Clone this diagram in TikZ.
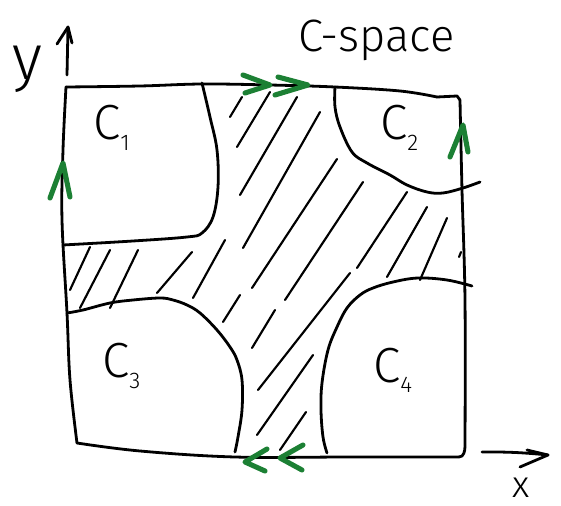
\documentclass[tikz,border=0pt]{standalone}
\usepackage{fontspec}
\setmainfont{Fira Sans Light}
\definecolor{marker}{RGB}{28,128,52}
\newcommand{\obst}[1]{C\raisebox{-8pt}{\fontsize{17}{17}\selectfont #1}}
\tikzset{
  ink/.style={draw=black, line width=2.1pt, line cap=round, line join=round},
  hatchline/.style={draw=black, line width=1.6pt, line cap=round},
  greenmark/.style={draw=marker, line width=3.8pt, line cap=round, line join=round},
  hand/.style={inner sep=0pt, text=black},
}
\begin{document}
\begin{tikzpicture}[x=0.75pt, y=-0.75pt]
\useasboundingbox (0,0) rectangle (561,506);

% outer square of the configuration space
\draw[ink] plot[smooth, tension=0.6] coordinates {(66,87) (140,86) (202,84) (270,85) (335,87) (400,91) (437,97)};
\draw[ink] (437,97) -- (457,96) -- (460,100);
\draw[ink] plot[smooth, tension=0.6] coordinates {(460,100) (462,190) (465,300) (465,446)} to[out=270,in=0] (459,457);
\draw[ink] plot[smooth, tension=0.6] coordinates {(459,457) (350,457) (235,457) (140,451) (77,443)};
\draw[ink] plot[smooth, tension=0.6] coordinates {(77,443) (70,380) (67,313) (62,220) (63,150) (66,87)};

% obstacle regions
\draw[ink] plot[smooth, tension=0.6] coordinates {(202,83) (210,117) (217,150) (218,187) (213,217) (202,233) (187,237) (133,241) (63,245)};
\draw[ink] plot[smooth, tension=0.6] coordinates {(335,87) (335,107) (340,127) (352,152) (367,163) (390,175) (407,185) (427,192) (443,193) (463,188) (480,182)};
\draw[ink] plot[smooth, tension=0.6] coordinates {(67,313) (83,310) (110,303) (133,300) (160,298) (173,300) (187,305) (200,313) (217,330) (230,347) (237,360) (242,380) (242,410) (238,437) (235,452)};
\draw[ink] plot[smooth, tension=0.6] coordinates {(472,286) (447,280) (418,278) (393,282) (373,288) (360,295) (347,308) (337,327) (328,350) (322,383) (321,410) (323,437) (327,453)};

% hatching of the free space
\foreach \xa/\ya/\xb/\yb in {
  230/117/242/97, 237/147/270/92, 240/195/297/97, 243/248/320/112,
  252/288/337/159, 285/300/363/182, 357/268/407/192, 387/277/427/207,
  420/280/447/218, 459/257/461/252,
  193/298/225/240, 157/293/192/252, 110/308/138/250, 80/308/110/250,
  70/290/90/247, 223/322/240/295, 252/348/275/310, 258/390/350/273,
  257/435/313/355, 280/450/306/412}
  \draw[hatchline] (\xa,\ya) -- (\xb,\yb);

% identification marks on the edges
\draw[greenmark] (243,75) -- (270,85) -- (245,93);
\draw[greenmark] (278,77) -- (308,85) -- (275,95);
\draw[greenmark] (267,449) -- (245,462) -- (265,471);
\draw[greenmark] (303,445) -- (280,458) -- (302,470);
\draw[greenmark] (50,198) -- (63,163) -- (70,197);
\draw[greenmark] (450,157) -- (463,125) -- (468,152);

% axes
\draw[ink] (67,75) -- (68,27);
\draw[ink] (57,44) -- (68,27) -- (72,43);
\draw[ink] (482,452) to[bend left=3] (548,455);
\draw[ink] (527,450) -- (548,455) -- (520,467);

% labels
\node[hand, anchor=base west, font=\fontsize{48}{48}\selectfont] (ylab) at (12,80) {y};
\node[hand, anchor=base west, font=\fontsize{28}{28}\selectfont] (xlab) at (512,497) {x};
\node[hand, anchor=base west, font=\fontsize{34}{34}\selectfont] (cspace) at (298,52) {C-space};
\node[hand, anchor=base west, font=\fontsize{37}{37}\selectfont] (c1) at (93,140) {\obst{1}};
\node[hand, anchor=base west, font=\fontsize{37}{37}\selectfont] (c2) at (380,140) {\obst{2}};
\node[hand, anchor=base west, font=\fontsize{37}{37}\selectfont] (c3) at (102,378) {\obst{3}};
\node[hand, anchor=base west, font=\fontsize{37}{37}\selectfont] (c4) at (373,382) {\obst{4}};
\end{tikzpicture}
\end{document}
